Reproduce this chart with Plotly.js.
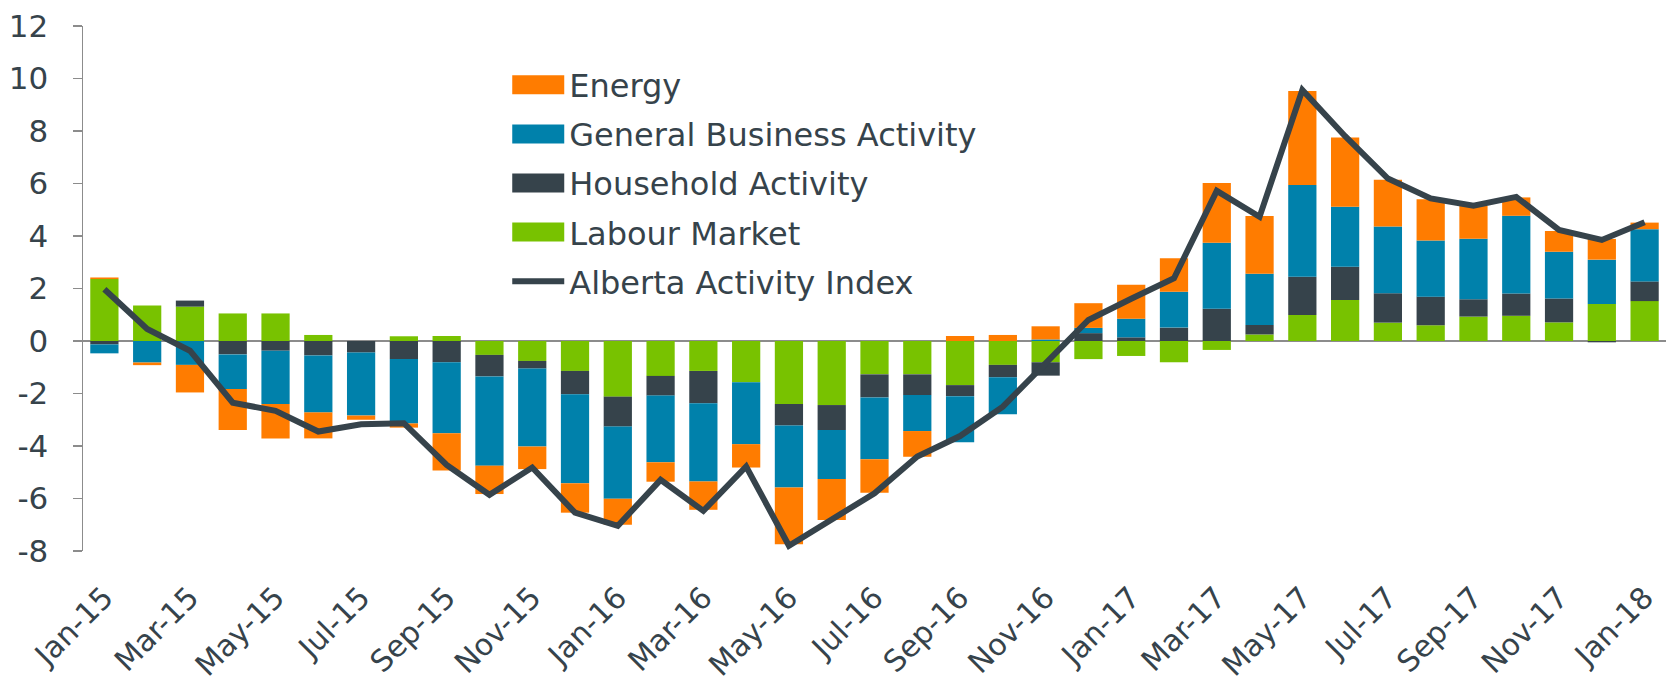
<!DOCTYPE html>
<html>
<head>
<meta charset="utf-8">
<script src="https://cdn.plot.ly/plotly-3.0.1.min.js"></script>
<style>
  html, body { margin: 0; padding: 0; background: #ffffff; }
  #chart { width: 1671px; height: 684px; }
</style>
</head>
<body>
<div id="chart"></div>
<script>
const months = ['Jan-15','Feb-15','Mar-15','Apr-15','May-15','Jun-15','Jul-15','Aug-15','Sep-15','Oct-15','Nov-15','Dec-15',
                'Jan-16','Feb-16','Mar-16','Apr-16','May-16','Jun-16','Jul-16','Aug-16','Sep-16','Oct-16','Nov-16','Dec-16',
                'Jan-17','Feb-17','Mar-17','Apr-17','May-17','Jun-17','Jul-17','Aug-17','Sep-17','Oct-17','Nov-17','Dec-17',
                'Jan-18'];

const labourMarket = [2.36, 1.35, 1.31, 1.05, 1.05, 0.23, 0.00, 0.18, 0.19, -0.53, -0.76, -1.14,
                      -2.12, -1.33, -1.14, -1.57, -2.40, -2.44, -1.27, -1.27, -1.68, -0.91, -0.81, -0.69,
                      -0.57, -0.81, -0.34, 0.25, 0.99, 1.56, 0.70, 0.60, 0.93, 0.96, 0.71, 1.41,
                      1.52];

const householdActivity = [-0.13, 0.00, 0.23, -0.51, -0.37, -0.55, -0.44, -0.69, -0.81, -0.82, -0.29, -0.89,
                           -1.14, -0.75, -1.23, 0.00, -0.82, -0.95, -0.88, -0.79, -0.42, -0.47, -0.51, 0.30,
                           0.14, 0.51, 1.23, 0.36, 1.46, 1.27, 1.12, 1.09, 0.66, 0.85, 0.91, -0.05,
                           0.75];

const generalBusiness = [-0.34, -0.82, -0.91, -1.32, -2.03, -2.17, -2.40, -2.45, -2.70, -3.40, -2.97, -3.39,
                         -2.75, -2.54, -2.98, -2.36, -2.36, -1.87, -2.35, -1.37, -1.76, -1.41, 0.06, 0.20,
                         0.71, 1.37, 2.51, 1.95, 3.49, 2.28, 2.54, 2.14, 2.31, 2.96, 1.78, 1.69,
                         1.99];

const energy = [0.06, -0.10, -1.05, -1.56, -1.31, -0.99, -0.16, -0.16, -1.42, -1.08, -0.86, -1.12,
                -0.99, -0.74, -1.08, -0.89, -2.16, -1.56, -1.28, -0.98, 0.19, 0.23, 0.50, 0.94,
                1.29, 1.27, 2.28, 2.20, 3.58, 2.64, 1.78, 1.57, 1.24, 0.70, 0.79, 0.79,
                0.25];

const albertaIndex = [1.97, 0.46, -0.37, -2.35, -2.66, -3.45, -3.17, -3.13, -4.72, -5.86, -4.82, -6.54,
                      -7.04, -5.29, -6.47, -4.78, -7.80, -6.77, -5.80, -4.40, -3.62, -2.50, -0.85, 0.80,
                      1.61, 2.39, 5.72, 4.73, 9.56, 7.80, 6.19, 5.43, 5.15, 5.49, 4.23, 3.85,
                      4.52];

const yTicks = [-8, -6, -4, -2, 0, 2, 4, 6, 8, 10, 12];

const COLORS = {
  energy: '#FF7C00',
  gba: '#0081AB',
  household: '#36434B',
  labour: '#78C200',
  index: '#36434B',
  axis: '#8C8C8C',
  text: '#36434B'
};

const FONT = 'DejaVu Sans, Arial, sans-serif';

function barTrace(name, values, color, rank) {
  return {
    type: 'bar',
    name: name,
    x: months,
    y: values,
    marker: { color: color, line: { width: 0 } },
    legendgroup: name,
    legendrank: rank,
    hoverinfo: 'skip'
  };
}

const traces = [
  barTrace('Labour Market', labourMarket, COLORS.labour, 4),
  barTrace('Household Activity', householdActivity, COLORS.household, 3),
  barTrace('General Business Activity', generalBusiness, COLORS.gba, 2),
  barTrace('Energy', energy, COLORS.energy, 1),
  {
    type: 'scatter',
    mode: 'lines',
    name: 'Alberta Activity Index',
    x: months,
    y: albertaIndex,
    line: { color: COLORS.index, width: 6 },
    legendgroup: 'Alberta Activity Index',
    legendrank: 5,
    hoverinfo: 'skip'
  }
];

const layout = {
  width: 1671,
  height: 684,
  margin: { l: 83, r: 5, t: 26, b: 133, pad: 0 },
  paper_bgcolor: '#ffffff',
  plot_bgcolor: '#ffffff',
  barmode: 'relative',
  bargap: 0.34,
  font: { family: FONT, color: COLORS.text, size: 31 },
  showlegend: true,
  legend: {
    x: 0.268,
    xanchor: 'left',
    y: 0.94,
    yanchor: 'top',
    traceorder: 'grouped',
    tracegroupgap: 4.5,
    itemwidth: 52,
    bgcolor: 'rgba(0,0,0,0)',
    borderwidth: 0,
    font: { family: FONT, size: 32, color: COLORS.text }
  },
  xaxis: {
    type: 'category',
    categoryorder: 'array',
    categoryarray: months,
    range: [-0.5, months.length - 0.5],
    dtick: 2,
    tickangle: -45,
    ticks: '',
    showline: false,
    showgrid: false,
    zeroline: false,
    ticklabelstandoff: 22,
    tickfont: { family: FONT, size: 30, color: COLORS.text },
    fixedrange: true
  },
  xaxis2: {
    overlaying: 'x',
    anchor: 'free',
    position: 0.4,
    side: 'bottom',
    type: 'linear',
    range: [-0.5, months.length - 0.5],
    tick0: -0.5,
    dtick: 2,
    ticks: 'outside',
    ticklen: 11,
    tickwidth: 1.8,
    tickcolor: COLORS.axis,
    showticklabels: false,
    showline: false,
    showgrid: false,
    zeroline: false,
    fixedrange: true
  },
  yaxis: {
    range: [-8, 12],
    tickmode: 'array',
    tickvals: yTicks,
    ticktext: yTicks.map(String),
    ticks: 'outside',
    ticklen: 9,
    tickwidth: 1.5,
    tickcolor: COLORS.axis,
    showline: true,
    linecolor: COLORS.axis,
    linewidth: 1.5,
    showgrid: false,
    zeroline: true,
    zerolinecolor: COLORS.axis,
    zerolinewidth: 2,
    ticklabelstandoff: 18,
    tickfont: { family: FONT, size: 31, color: COLORS.text },
    fixedrange: true
  }
};

function widenLegendSymbols(gd) {
  var cx = null;
  var bars = gd.querySelectorAll('.legendpoints path');
  bars.forEach(function (p) {
    var cls = p.getAttribute('class') || '';
    if (cls.indexOf('js-line') !== -1 || cls.indexOf('js-fill') !== -1) { return; }
    var d = p.getAttribute('d') || '';
    if (cls.indexOf('legendbar') === -1 && d.indexOf('M6,6') !== 0 && d.indexOf('M26,9.5') !== 0) { return; }
    var t = p.getAttribute('transform') || '';
    var m = /translate\(\s*([-\d.]+)/.exec(t);
    if (m) { cx = parseFloat(m[1]); }
    p.setAttribute('d', 'M26,9.5H-26V-9.5H26Z');
  });
  if (cx === null) { cx = 31; }
  gd.querySelectorAll('.legendpoints path.js-line').forEach(function (p) {
    p.setAttribute('d', 'M' + (cx - 24) + ',0h48');
    p.style.strokeLinecap = 'round';
  });
}

var gdEl = document.getElementById('chart');
var plotPromise = Plotly.newPlot(gdEl, traces, layout, { staticPlot: true, displayModeBar: false });
widenLegendSymbols(gdEl);
plotPromise.then(function (gd) {
  widenLegendSymbols(gd);
  if (gd.on) { gd.on('plotly_afterplot', function () { widenLegendSymbols(gd); }); }
});
[0, 30, 100, 300, 800].forEach(function (ms) {
  setTimeout(function () { widenLegendSymbols(gdEl); }, ms);
});
</script>
</body>
</html>
